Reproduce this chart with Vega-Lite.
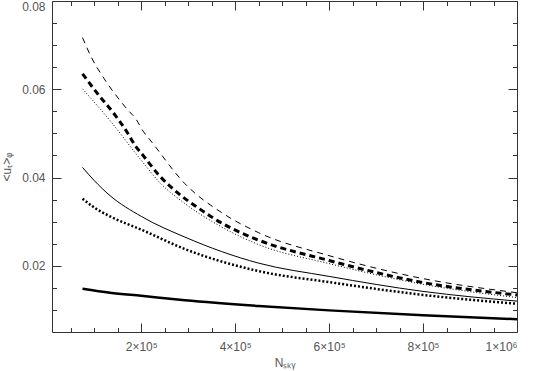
{
  "$schema": "https://vega.github.io/schema/vega-lite/v6.json",
  "width": 465,
  "height": 331,
  "autosize": {"type": "none"},
  "padding": {"left": 52, "top": 1, "right": 20, "bottom": 39},
  "background": "white",
  "config": {
    "view": {"stroke": null},
    "axis": {
      "labelFont": "Liberation Sans",
      "titleFont": "Liberation Sans",
      "labelColor": "#555",
      "titleColor": "#555",
      "domainColor": "#333",
      "tickColor": "#333",
      "grid": false,
      "labelFontSize": 12,
      "titleFontSize": 12,
      "titleFontWeight": "normal"
    },
    "line": {"interpolate": "monotone", "strokeCap": "butt", "color": "black"}
  },
  "data": {
    "values": [
      {"series": "A", "n": 75000, "u": 0.0717},
      {"series": "A", "n": 94500, "u": 0.0671},
      {"series": "A", "n": 121000, "u": 0.0624},
      {"series": "A", "n": 153000, "u": 0.0577},
      {"series": "A", "n": 169000, "u": 0.0556},
      {"series": "A", "n": 189000, "u": 0.0532},
      {"series": "A", "n": 204000, "u": 0.0505},
      {"series": "A", "n": 219000, "u": 0.0485},
      {"series": "A", "n": 293000, "u": 0.0386},
      {"series": "A", "n": 375000, "u": 0.0318},
      {"series": "A", "n": 450000, "u": 0.0275},
      {"series": "A", "n": 600000, "u": 0.0223},
      {"series": "A", "n": 800000, "u": 0.0171},
      {"series": "A", "n": 1000000, "u": 0.0139},
      {"series": "B", "n": 75000, "u": 0.0635},
      {"series": "B", "n": 107000, "u": 0.0590},
      {"series": "B", "n": 142600, "u": 0.0544},
      {"series": "B", "n": 171000, "u": 0.0501},
      {"series": "B", "n": 186700, "u": 0.0473},
      {"series": "B", "n": 204000, "u": 0.0450},
      {"series": "B", "n": 238000, "u": 0.0405},
      {"series": "B", "n": 279000, "u": 0.0364},
      {"series": "B", "n": 321500, "u": 0.0331},
      {"series": "B", "n": 367700, "u": 0.0299},
      {"series": "B", "n": 413900, "u": 0.0274},
      {"series": "B", "n": 450000, "u": 0.0258},
      {"series": "B", "n": 600000, "u": 0.0212},
      {"series": "B", "n": 800000, "u": 0.0162},
      {"series": "B", "n": 1000000, "u": 0.0134},
      {"series": "C", "n": 75000, "u": 0.0601},
      {"series": "C", "n": 133500, "u": 0.0529},
      {"series": "C", "n": 200000, "u": 0.0439},
      {"series": "C", "n": 240000, "u": 0.0388},
      {"series": "C", "n": 293000, "u": 0.0341},
      {"series": "C", "n": 367700, "u": 0.0290},
      {"series": "C", "n": 450000, "u": 0.0248},
      {"series": "C", "n": 600000, "u": 0.0205},
      {"series": "C", "n": 800000, "u": 0.0158},
      {"series": "C", "n": 1000000, "u": 0.0128},
      {"series": "D", "n": 75000, "u": 0.0423},
      {"series": "D", "n": 100000, "u": 0.0393},
      {"series": "D", "n": 133500, "u": 0.0359},
      {"series": "D", "n": 200000, "u": 0.0312},
      {"series": "D", "n": 293000, "u": 0.0265},
      {"series": "D", "n": 450000, "u": 0.0206},
      {"series": "D", "n": 600000, "u": 0.0176},
      {"series": "D", "n": 800000, "u": 0.0142},
      {"series": "D", "n": 1000000, "u": 0.0120},
      {"series": "E", "n": 75000, "u": 0.0352},
      {"series": "E", "n": 100000, "u": 0.0332},
      {"series": "E", "n": 133500, "u": 0.0312},
      {"series": "E", "n": 200000, "u": 0.0282},
      {"series": "E", "n": 293000, "u": 0.0238},
      {"series": "E", "n": 450000, "u": 0.0188},
      {"series": "E", "n": 600000, "u": 0.0163},
      {"series": "E", "n": 800000, "u": 0.0134},
      {"series": "E", "n": 1000000, "u": 0.0114},
      {"series": "F", "n": 75000, "u": 0.0148},
      {"series": "F", "n": 133500, "u": 0.0139},
      {"series": "F", "n": 200000, "u": 0.0132},
      {"series": "F", "n": 293000, "u": 0.0122},
      {"series": "F", "n": 450000, "u": 0.0109},
      {"series": "F", "n": 600000, "u": 0.0099},
      {"series": "F", "n": 800000, "u": 0.0088},
      {"series": "F", "n": 1000000, "u": 0.0079}
    ]
  },
  "encoding": {
    "x": {"field": "n", "type": "quantitative", "scale": {"domain": [10000, 1000000], "nice": false, "zero": false}},
    "y": {"field": "u", "type": "quantitative", "scale": {"domain": [0.005, 0.08], "nice": false, "zero": false}},
    "detail": {"field": "series"}
  },
  "layer": [
    {
      "mark": {"type": "line", "opacity": 0},
      "encoding": {
        "x": {
          "field": "n", "type": "quantitative",
          "axis": {
            "orient": "bottom",
            "values": [200000, 400000, 600000, 800000, 1000000],
            "labelExpr": "datum.value == 1000000 ? '1×10⁶' : format(datum.value/100000, 'd') + '×10⁵'",
            "ticks": false,
            "labelPadding": 9,
            "title": "Nₛₖᵧ",
            "titlePadding": 5
          }
        },
        "y": {
          "field": "u", "type": "quantitative",
          "axis": {
            "orient": "left",
            "values": [0.02, 0.04, 0.06, 0.08],
            "format": ".2f",
            "ticks": false,
            "labelPadding": 7,
            "labelFlush": true,
            "title": "<uₜ>ᵩ",
            "titlePadding": 8
          }
        }
      }
    },
    {
      "transform": [{"filter": "datum.series == 'A'"}],
      "mark": {"type": "line", "strokeWidth": 1, "strokeDash": [6, 5]},
      "encoding": {"x": {"field": "n", "type": "quantitative", "axis": null}, "y": {"field": "u", "type": "quantitative", "axis": null}}
    },
    {
      "transform": [{"filter": "datum.series == 'B'"}],
      "mark": {"type": "line", "strokeWidth": 3, "strokeDash": [6, 4]},
      "encoding": {"x": {"field": "n", "type": "quantitative", "axis": null}, "y": {"field": "u", "type": "quantitative", "axis": null}}
    },
    {
      "transform": [{"filter": "datum.series == 'C'"}],
      "mark": {"type": "line", "strokeWidth": 1, "strokeDash": [1, 2]},
      "encoding": {"x": {"field": "n", "type": "quantitative", "axis": null}, "y": {"field": "u", "type": "quantitative", "axis": null}}
    },
    {
      "transform": [{"filter": "datum.series == 'D'"}],
      "mark": {"type": "line", "strokeWidth": 1},
      "encoding": {"x": {"field": "n", "type": "quantitative", "axis": null}, "y": {"field": "u", "type": "quantitative", "axis": null}}
    },
    {
      "transform": [{"filter": "datum.series == 'E'"}],
      "mark": {"type": "line", "strokeWidth": 2.5, "strokeDash": [2, 2]},
      "encoding": {"x": {"field": "n", "type": "quantitative", "axis": null}, "y": {"field": "u", "type": "quantitative", "axis": null}}
    },
    {
      "transform": [{"filter": "datum.series == 'F'"}],
      "mark": {"type": "line", "strokeWidth": 2.5},
      "encoding": {"x": {"field": "n", "type": "quantitative", "axis": null}, "y": {"field": "u", "type": "quantitative", "axis": null}}
    },
    {
      "mark": {"type": "line", "opacity": 0},
      "encoding": {
        "x": {"field": "n", "type": "quantitative",
          "axis": {"orient": "bottom", "values": [200000, 400000, 600000, 800000, 1000000], "labels": false, "domain": false, "tickSize": -9, "title": null}},
        "y": {"field": "u", "type": "quantitative",
          "axis": {"orient": "left", "values": [0.02, 0.04, 0.06, 0.08], "labels": false, "domain": false, "tickSize": -9, "title": null}}
      }
    },
    {
      "mark": {"type": "line", "opacity": 0},
      "encoding": {
        "x": {"field": "n", "type": "quantitative",
          "axis": {"orient": "bottom", "values": [50000, 100000, 150000, 250000, 300000, 350000, 450000, 500000, 550000, 650000, 700000, 750000, 850000, 900000, 950000], "labels": false, "domain": false, "tickSize": -4.5, "title": null}},
        "y": {"field": "u", "type": "quantitative",
          "axis": {"orient": "left", "values": [0.01, 0.015, 0.025, 0.03, 0.035, 0.045, 0.05, 0.055, 0.065, 0.07, 0.075], "labels": false, "domain": false, "tickSize": -4.5, "title": null}}
      }
    },
    {
      "mark": {"type": "line", "opacity": 0},
      "encoding": {
        "x": {"field": "n", "type": "quantitative",
          "axis": {"orient": "top", "values": [200000, 400000, 600000, 800000, 1000000], "labels": false, "domain": true, "tickSize": -9, "title": null}},
        "y": {"field": "u", "type": "quantitative",
          "axis": {"orient": "right", "values": [0.02, 0.04, 0.06, 0.08], "labels": false, "domain": true, "tickSize": -9, "title": null}}
      }
    },
    {
      "mark": {"type": "line", "opacity": 0},
      "encoding": {
        "x": {"field": "n", "type": "quantitative",
          "axis": {"orient": "top", "values": [50000, 100000, 150000, 250000, 300000, 350000, 450000, 500000, 550000, 650000, 700000, 750000, 850000, 900000, 950000], "labels": false, "domain": false, "tickSize": -4.5, "title": null}},
        "y": {"field": "u", "type": "quantitative",
          "axis": {"orient": "right", "values": [0.01, 0.015, 0.025, 0.03, 0.035, 0.045, 0.05, 0.055, 0.065, 0.07, 0.075], "labels": false, "domain": false, "tickSize": -4.5, "title": null}}
      }
    }
  ],
  "resolve": {"axis": {"x": "independent", "y": "independent"}}
}
